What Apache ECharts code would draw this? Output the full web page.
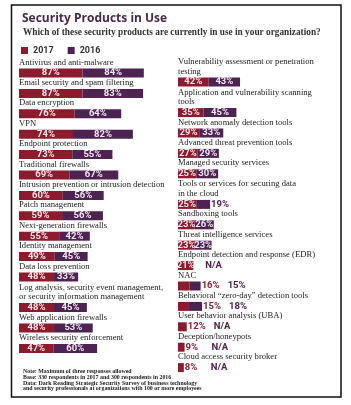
<!DOCTYPE html>
<html><head><meta charset="utf-8">
<script src="https://cdn.jsdelivr.net/npm/echarts@6/dist/echarts.min.js"></script>
<style>html,body{margin:0;padding:0;background:#fff}#c{width:351px;height:405px}</style>
</head><body><div id="c"></div>
<script>
const leftCategories = ['Antivirus and anti-malware','Email security and spam filtering','Data encryption','VPN','Endpoint protection','Traditional firewalls','Intrusion prevention or intrusion detection','Patch management','Next-generation firewalls','Identity management','Data loss prevention','Log analysis, security event management,\nor security information management','Web application firewalls','Wireless security enforcement'];
const left2017 = [87,87,76,74,73,69,60,59,55,49,48,48,48,47];
const left2016 = [84,83,64,82,55,67,56,56,42,45,33,45,53,60];
const rightCategories = ['Vulnerability assessment or penetration\ntesting','Application and vulnerability scanning\ntools','Network anomaly detection tools','Advanced threat prevention tools','Managed security services','Tools or services for securing data\nin the cloud','Sandboxing tools','Threat intelligence services','Endpoint detection and response (EDR)','NAC','Behavioral \u201czero-day\u201d detection tools','User behavior analysis (UBA)','Deception/honeypots','Cloud access security broker'];
const right2017 = [42,35,29,27,25,25,23,23,21,16,15,12,9,8];
const right2016 = [43,45,33,29,30,19,26,23,null,15,18,null,null,null];
const seriesNames = ['2017','2016'];
const titleText = 'Security Products in Use';
const subtitleText = 'Which of these security products are currently in use in your organization?';
const noteText = 'Note: Maximum of three responses allowed\nBase: 330 respondents in 2017 and 300 respondents in 2016\nData: Dark Reading Strategic Security Survey of business technology\nand security professionals at organizations with 100 or more employees';

const RED = '#8b1b2d', PURPLE = '#4d2351';
const INSIDE_MIN = 20;

function buildSlots(prefix, cats, a, b) {
  const slots = [], s17 = [], s16 = [], helper = [], rowOf = [];
  cats.forEach((c, i) => {
    const n = c.split('\n').length;
    for (let k = 0; k < n; k++) {
      slots.push(prefix + slots.length); s17.push('-'); s16.push('-'); helper.push('-'); rowOf.push(-1);
    }
    slots.push(prefix + slots.length); s17.push(a[i]); s16.push(b[i] == null ? '-' : b[i]); helper.push(0); rowOf.push(i);
  });
  return {slots, s17, s16, helper, rowOf};
}
const L = buildSlots('L', leftCategories, left2017, left2016);
const R = buildSlots('R', rightCategories, right2017, right2016);

const pctFont = {fontFamily: 'Roboto', fontWeight: 'bold', fontSize: 9.5};

function columnSeries(S, cats, a, b, idx) {
  const stack = 'st' + idx;
  const common = {type: 'bar', stack, barWidth: 9, xAxisIndex: idx, yAxisIndex: idx, silent: true};
  return [
    Object.assign({}, common, {
      name: 'names' + idx, data: S.helper, itemStyle: {color: 'rgba(0,0,0,0)'},
      label: {show: true, position: [0, -1.5], align: 'left', verticalAlign: 'bottom',
        fontFamily: 'Liberation Serif', fontSize: 8.6, lineHeight: 9.5, color: '#222',
        formatter: p => cats[S.rowOf[p.dataIndex]] || ''}
    }),
    Object.assign({}, common, {
      name: seriesNames[0], data: S.s17, itemStyle: {color: RED},
      label: Object.assign({show: true, position: 'inside', color: '#f6e6e8',
        formatter: p => p.value >= INSIDE_MIN ? p.value + '%' : ''}, pctFont)
    }),
    Object.assign({}, common, {
      name: seriesNames[1], data: S.s16, itemStyle: {color: PURPLE},
      label: Object.assign({show: true, position: 'inside', color: '#f1e8f2',
        formatter: p => p.value >= INSIDE_MIN ? p.value + '%' : ''}, pctFont)
    }),
    Object.assign({}, common, {
      name: 'out' + idx, data: S.helper, itemStyle: {color: 'rgba(0,0,0,0)'},
      label: Object.assign({show: true, position: 'right', distance: 1,
        formatter: p => {
          const r = S.rowOf[p.dataIndex]; const va = a[r], vb = b[r];
          let s = '';
          const rOut = va < INSIDE_MIN;
          if (rOut) s += '{r|' + va + '%}';
          if (vb == null) s += rOut ? '{na|N/A}' : '{na2|N/A}';
          else if (vb < INSIDE_MIN) s += '{p|' + vb + '%}';
          return s;
        },
        rich: {
          r: Object.assign({color: RED, width: 26}, pctFont),
          p: Object.assign({color: PURPLE}, pctFont),
          na: Object.assign({color: PURPLE}, pctFont),
          na2: Object.assign({color: PURPLE, padding: [0, 0, 0, 11]}, pctFont)
        }}, pctFont)
    })
  ];
}

const chart = echarts.init(document.getElementById('c'), null, {renderer: 'canvas'});
const SLOT = 10.2;
chart.setOption({
  animation: false,
  title: [
    {text: titleText, left: 17, top: 8, textStyle: {fontFamily: 'Open Sans', fontWeight: 'bold', fontSize: 12, color: '#4a2947'}},
    {text: subtitleText, left: 18, top: 23, textStyle: {fontFamily: 'Liberation Serif', fontWeight: 'bold', fontSize: 9.3, color: '#333'}},
    {text: noteText, left: 18, top: 364, textStyle: {fontFamily: 'Liberation Serif', fontWeight: 'bold', fontSize: 5.9, lineHeight: 5.7, color: '#222'}}
  ],
  legend: {data: seriesNames, left: 16, top: 41, icon: 'rect', itemWidth: 7, itemHeight: 7, itemGap: 14,
    textStyle: {fontFamily: 'Roboto', fontWeight: 'bold', fontSize: 9, color: '#333'}},
  graphic: [{type: 'rect', shape: {x: 11.5, y: 5, width: 329.5, height: 392}, style: {fill: 'none', stroke: '#111', lineWidth: 1.5}, silent: true}],
  grid: [
    {left: 19, top: 57.7, width: 146, height: L.slots.length * SLOT},
    {left: 178, top: 56.5, width: 146, height: R.slots.length * SLOT}
  ],
  xAxis: [
    {type: 'value', gridIndex: 0, min: 0, max: 200, show: false},
    {type: 'value', gridIndex: 1, min: 0, max: 200, show: false}
  ],
  yAxis: [
    {type: 'category', gridIndex: 0, data: L.slots, inverse: true, show: false},
    {type: 'category', gridIndex: 1, data: R.slots, inverse: true, show: false}
  ],
  series: columnSeries(L, leftCategories, left2017, left2016, 0).concat(columnSeries(R, rightCategories, right2017, right2016, 1))
});
</script></body></html>
